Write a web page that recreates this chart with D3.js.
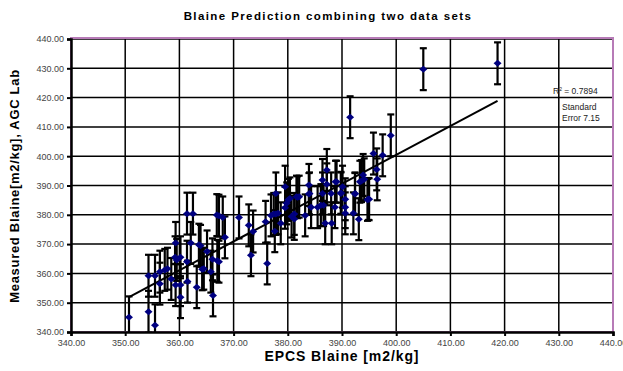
<!DOCTYPE html>
<html>
<head>
<meta charset="utf-8">
<script src="https://cdn.jsdelivr.net/npm/d3@7"></script>
<style>
  body { margin: 0; background: #fff; }
  svg text { font-family: "Liberation Sans", Arial, sans-serif; }
</style>
</head>
<body>
<div id="chart"></div>
<script>
// data
let epcs = [350.7, 354.3, 354.3, 355.5, 355.5, 356.4, 356.4, 357.3, 357.8, 358.5,
    359.3, 359.2, 359.5, 360.2, 359.3, 360.2, 360.2, 361.4, 361.5, 361.4,
    362.5, 362.1, 363.2, 363.6, 363.9, 364.2, 364.5, 365.1, 365.8, 366.2,
    366.1, 366.9, 367.3, 367.0, 367.3, 368.0, 368.4, 371.0, 372.8, 373.2,
    373.6, 375.9, 376.2, 376.9, 377.4, 377.8, 378.2, 377.6, 377.8, 378.7,
    379.5, 379.8, 380.1, 380.4, 381.2, 380.7, 381.2, 381.6, 382.1, 383.2,
    383.9, 384.3, 385.5, 386.1, 386.6, 386.4, 386.9, 388.1, 388.0, 388.7,
    389.8, 390.6, 390.6, 390.6, 392.1, 392.4, 393.1, 394.7, 379.5, 381.8,
    383.9, 384.0, 386.4, 387.2, 387.2, 388.8, 389.0, 389.8, 390.1, 392.4,
    393.3, 393.6, 393.9, 394.1, 394.9, 395.0, 396.5, 396.4, 395.8, 397.5,
    399.0, 391.5, 405.0, 418.7];
let measured = [345.0, 359.2, 346.9, 359.2, 342.3, 360.6, 356.5, 361.2, 361.6, 358.1,
    370.4, 365.5, 364.6, 365.5, 356.0, 356.0, 351.9, 364.0, 357.2, 380.4,
    380.4, 370.4, 355.3, 369.8, 369.4, 361.4, 361.6, 367.5, 360.6, 352.5,
    364.8, 379.9, 379.7, 364.3, 364.0, 379.1, 372.3, 379.1, 376.4, 366.2,
    374.3, 377.6, 363.4, 379.8, 380.3, 380.3, 380.5, 374.4, 387.3, 377.1,
    382.4, 383.9, 385.1, 385.6, 380.3, 379.4, 378.6, 386.2, 386.2, 379.8,
    387.1, 382.6, 382.6, 383.3, 383.3, 387.3, 377.1, 377.1, 387.3, 382.6,
    387.5, 385.3, 382.6, 380.5, 380.5, 387.1, 378.5, 385.1, 389.6, 386.0,
    390.2, 387.3, 391.9, 390.4, 395.3, 391.3, 391.3, 387.3, 389.6, 387.3,
    391.3, 391.5, 393.6, 392.1, 385.4, 385.3, 392.1, 395.5, 400.9, 400.3,
    407.1, 413.3, 429.7, 431.7];

let stdError = 7.15;
let rSquared = 0.7894;
let trendSlope = 0.985;
let trendIntercept = 6.46;

let xTicks = [340, 350, 360, 370, 380, 390, 400, 410, 420, 430, 440];
let yTicks = [340, 350, 360, 370, 380, 390, 400, 410, 420, 430, 440];

const width = 623;
const height = 371;
const plotL = 71, plotR = 613, plotT = 39, plotB = 332;

let svg = d3.select("#chart").append("svg").attr("width", width).attr("height", height);

let x = d3.scaleLinear().domain([340, 440]).range([plotL, plotR]);
let y = d3.scaleLinear().domain([340, 440]).range([plotB, plotT]);

let points = epcs.map((v, i) => { return { x: v, y: measured[i] }; });

svg.append("defs").append("clipPath").attr("id", "plotclip")
    .append("rect").attr("x", plotL).attr("y", plotT).attr("width", plotR - plotL).attr("height", plotB - plotT);

// grid
svg.append("g").selectAll("line").data(yTicks).enter().append("line")
    .attr("x1", plotL).attr("x2", plotR)
    .attr("y1", (d) => y(d)).attr("y2", (d) => y(d))
    .attr("stroke", "#000").attr("stroke-width", 1.5);
svg.append("g").selectAll("line").data(xTicks).enter().append("line")
    .attr("x1", (d) => x(d)).attr("x2", (d) => x(d))
    .attr("y1", plotT).attr("y2", plotB)
    .attr("stroke", "#000").attr("stroke-width", 1.5);

// plot area border (purple)
svg.append("rect").attr("x", plotL).attr("y", plotT - 1).attr("width", plotR - plotL).attr("height", plotB - plotT + 1)
    .attr("fill", "none").attr("stroke", "#b77bb7").attr("stroke-width", 2);

// axes
let xAxis = d3.axisBottom(x).tickValues(xTicks).tickFormat(d3.format(".2f")).tickSize(4).tickPadding(4);
let yAxis = d3.axisLeft(y).tickValues(yTicks).tickFormat(d3.format(".2f")).tickSize(4).tickPadding(3);

let gx = svg.append("g").attr("transform", `translate(0,${plotB})`).call(xAxis);
let gy = svg.append("g").attr("transform", `translate(${plotL},0)`).call(yAxis);
[gx, gy].forEach((g) => {
    g.select(".domain").attr("stroke", "#000").attr("stroke-width", 2.5);
    g.selectAll(".tick line").attr("stroke", "#000").attr("stroke-width", 2);
    g.selectAll(".tick text").attr("font-size", 9).attr("fill", "#444").attr("font-family", "'Liberation Sans', Arial, sans-serif");
});

let plot = svg.append("g").attr("clip-path", "url(#plotclip)");

// error bars
let bars = plot.append("g").selectAll("g").data(points).enter().append("g");
bars.append("line")
    .attr("x1", (d) => x(d.x)).attr("x2", (d) => x(d.x))
    .attr("y1", (d) => y(d.y - stdError)).attr("y2", (d) => y(d.y + stdError))
    .attr("stroke", "#000").attr("stroke-width", 2.2);
bars.append("line")
    .attr("x1", (d) => x(d.x) - 3.5).attr("x2", (d) => x(d.x) + 3.5)
    .attr("y1", (d) => y(d.y + stdError)).attr("y2", (d) => y(d.y + stdError))
    .attr("stroke", "#000").attr("stroke-width", 2.2);
bars.append("line")
    .attr("x1", (d) => x(d.x) - 3.5).attr("x2", (d) => x(d.x) + 3.5)
    .attr("y1", (d) => y(d.y - stdError)).attr("y2", (d) => y(d.y - stdError))
    .attr("stroke", "#000").attr("stroke-width", 2.2);

// trend line over the data range
let xmin = d3.min(epcs), xmax = d3.max(epcs);
plot.append("line")
    .attr("x1", x(xmin)).attr("y1", y(trendSlope * xmin + trendIntercept))
    .attr("x2", x(xmax)).attr("y2", y(trendSlope * xmax + trendIntercept))
    .attr("stroke", "#000").attr("stroke-width", 2);

// markers (diamonds)
plot.append("g").selectAll("path").data(points).enter().append("path")
    .attr("d", (d) => {
        let cx = x(d.x), cy = y(d.y);
        return "M" + (cx - 4) + "," + cy + " L" + cx + "," + (cy - 3.5) + " L" + (cx + 4) + "," + cy + " L" + cx + "," + (cy + 3.5) + "Z";
    })
    .attr("fill", "#000080");

// titles
svg.append("text").attr("x", 328).attr("y", 20).attr("text-anchor", "middle")
    .attr("font-size", 11.5).attr("font-weight", "bold").attr("letter-spacing", 1.4)
    .text("Blaine Prediction combining two data sets");

svg.append("text").attr("x", 342).attr("y", 361).attr("text-anchor", "middle")
    .attr("font-size", 14).attr("font-weight", "bold").attr("letter-spacing", 0.9)
    .text("EPCS Blaine [m2/kg]");

svg.append("text").attr("transform", "translate(19,186) rotate(-90)").attr("text-anchor", "middle")
    .attr("font-size", 13).attr("font-weight", "bold").attr("letter-spacing", 0.7)
    .text("Measured Blaine[m2/kg], AGC Lab");

// fit annotation
let note = svg.append("text").attr("x", 553).attr("y", 94).attr("font-size", 8.5).attr("fill", "#222");
note.append("tspan").text("R");
note.append("tspan").attr("font-size", 5).attr("dy", -3).text("2");
note.append("tspan").attr("dy", 3).text(" = " + rSquared);

svg.append("text").attr("x", 562).attr("y", 110).attr("font-size", 8.5).attr("fill", "#222").text("Standard");
svg.append("text").attr("x", 562).attr("y", 121).attr("font-size", 8.5).attr("fill", "#222").text("Error " + stdError);
</script>
</body>
</html>
